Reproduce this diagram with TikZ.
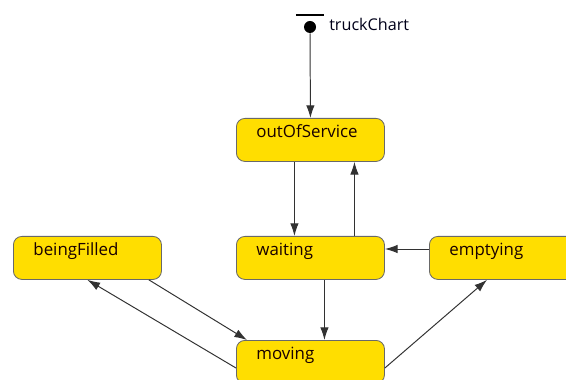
\documentclass[tikz,border=0pt]{standalone}
\usepackage{fontspec}
\setmainfont{Open Sans}
\usetikzlibrary{arrows.meta}
\definecolor{etatjaune}{RGB}{255,222,0}
\definecolor{bordgris}{RGB}{105,105,105}
\definecolor{traitgris}{RGB}{50,50,50}
\begin{document}
\begin{tikzpicture}[x=0.025cm,y=-0.025cm]
		% Styles
		\tikzstyle{transition}=[->,>={Latex[length=9pt,width=6pt]},line width=0.7pt,traitgris]
		\tikzstyle{etat}=[anchor=north west,draw=bordgris,line width=0.6pt,fill=etatjaune,rounded corners=6pt,
			inner xsep=0.5cm,inner ysep=0pt,text width=2.7cm,text height=0.475cm,text depth=0.6cm,align=left,
			font=\fontsize{12}{14}\selectfont,text=black!90!red]
		\tikzstyle{initial}=[circle,fill=black,minimum size=0.3cm,inner sep=0pt]
		\tikzstyle{commentaire}=[anchor=base west,inner sep=0pt,font=\fontsize{11.5}{14}\selectfont,text=black!90!blue]
		% Cadre
		\clip (0,0) rectangle (566,380);
		% Dimensions (en pixels)
		\def\ColonneA{13}
		\def\ColonneB{236}
		\def\ColonneC{429}
		\def\LigneA{118}
		\def\LigneB{236}
		\def\LigneC{340}
		% Noeuds
		\node[initial] (debut) at (310,27) {};
		\draw[line width=2pt] ([xshift=-0.35cm,yshift=0.3cm]debut.center) -- ++(0.7cm,0);
		\node[commentaire] (chart) at (329,31) {truckChart};
		%
		\node[etat] (service) at (\ColonneB,\LigneA) {outOfService};
		\node[etat] (attente) at (\ColonneB,\LigneB) {waiting};
		\node[etat] (vidage) at (\ColonneC,\LigneB) {emptying};
		\node[etat] (remplissage) at (\ColonneA,\LigneB) {beingFilled};
		\node[etat] (route) at (\ColonneB,\LigneC) {moving};
		% Arcs
		\draw[transition] (debut) -- (service.north);
		\draw[transition] ([xshift=-0.4cm]service.south) -- ([xshift=-0.4cm]attente.north);
		\draw[transition] ([xshift=1.1cm]attente.north) -- ([xshift=1.1cm]service.south);
		\draw[transition] ([yshift=-0.325cm]vidage.north west) -- ([yshift=-0.325cm]attente.north east);
		\draw[transition] ([xshift=0.35cm]attente.south) -- ([xshift=0.35cm]route.north);
		\draw[transition] ([xshift=-0.325cm]remplissage.south east) -- ([xshift=0.275cm]route.north west);
		\draw[transition] ([yshift=-0.7cm]route.north west) -- (remplissage.south);
		\draw[transition] ([yshift=-0.7cm]route.north east) -- ([xshift=1.45cm]vidage.south west);
	\end{tikzpicture}
\end{document}
